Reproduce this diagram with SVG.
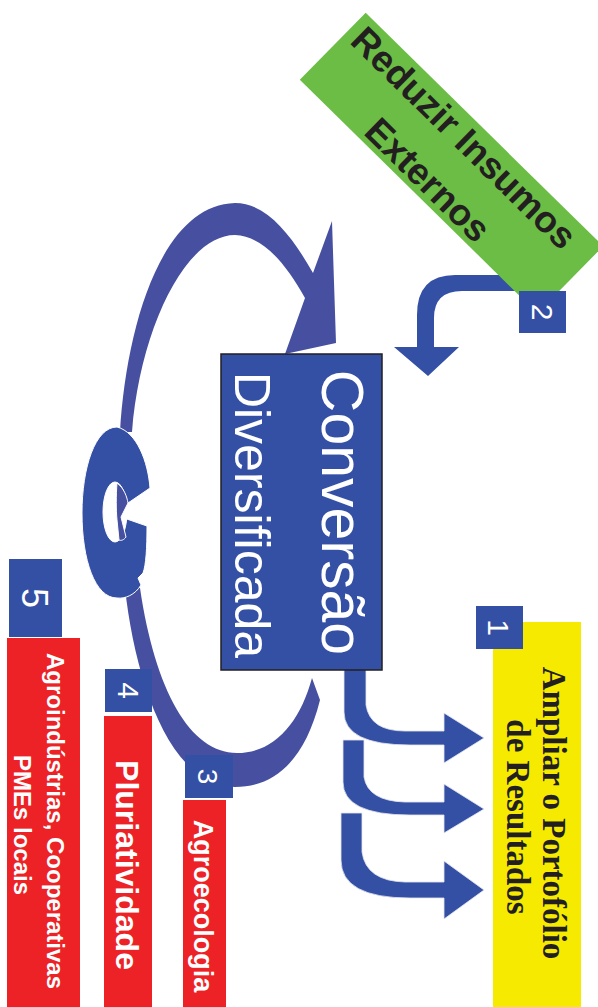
<svg xmlns="http://www.w3.org/2000/svg" width="598" height="1007" viewBox="0 0 598 1007">
<style>
.blue{fill:#3450A4}
.arc{fill:#4750A0}
.num{fill:#fff;font-family:"Liberation Sans",Arial,sans-serif;font-weight:normal;text-anchor:middle}
.red{fill:#EC2227}
.wt{fill:#fff;font-family:"Liberation Sans",Arial,sans-serif;font-weight:bold;text-anchor:middle}
.dk{fill:#231F20;font-family:"Liberation Sans",Arial,sans-serif;font-weight:bold;text-anchor:middle}
.serif{fill:#231F20;font-family:"Liberation Serif","Times New Roman",serif;font-weight:bold;text-anchor:middle}
</style>
<rect width="598" height="1007" fill="#fff"/>
<g id="connectors">
  <path id="loop-upper" class="arc" d="M120,432 C126,330 160,205 235,203 C268,203 293,238 313,273 L332,221 L336,343 L285,354 L305,298 C285,262 262,236 235,235 C185,235 140,330 132,432 Z"/>
  <path id="loop-lower" class="arc" d="M125,588 C135,680 170,787 235,787 C275,787 305,760 320,700 L312,678 C300,722 275,753 237,753 C190,753 155,690 140,588 Z"/>
  <g id="loop-twist" stroke="#fff" stroke-width="1">
    <path class="blue" d="M117,427 C137,432 148,462 150,488 L128,503 L121,517 L147,526 C147,548 146,565 143,573 L138,578 L141,585 C135,595 125,599 117,598 C95,598 82,560 82,513 C82,468 95,427 117,427 Z"/>
    <ellipse cx="115" cy="512" rx="12" ry="30" fill="#fff"/>
    <path class="arc" d="M117,483 C124,488 127,497 128,503 L121,517 L126,537 C124,540 121,541 119,540 L117,520 C116,510 116,495 117,483 Z"/>
  </g>
  <path id="arrow-2" class="blue" d="M520,275 H455 Q417,275 417,315 V347 H394 L428,376 L459,347 H434 V318 Q434,291 462,291 H520 Z"/>
  <path id="arrow-a" class="blue" stroke="#e6e6f0" stroke-width="0.8" d="M344,669 H366 V705 Q370,731 405,731 H444 V713 L484,738 L444,763 V745 H410 Q344,745 344,712 Z"/>
  <path id="arrow-b" class="blue" stroke="#e6e6f0" stroke-width="0.8" d="M343,740 H364 V777 Q368,801 405,802 H444 V784 L484,809 L444,833 V815 H410 Q343,815 343,782 Z"/>
  <path id="arrow-c" class="blue" stroke="#e6e6f0" stroke-width="0.8" d="M341,813 H362 V852 Q366,881 405,882 H444 V861 L484,890 L444,919 V898 H410 Q341,898 341,860 Z"/>
</g>
<g id="node-reduzir">
  <rect x="285" y="116" width="333" height="94" transform="rotate(44.5 451.5 163)" fill="#6BBD45"/>
  <text class="dk" font-size="37" transform="translate(455,147) rotate(44.5)">Reduzir Insumos</text>
  <text class="dk" font-size="37" transform="translate(419,189) rotate(44.5)">Externos</text>
</g>
<g id="badge-2">
  <rect class="blue" x="519" y="291" width="47" height="42"/>
  <text class="num" font-size="30" transform="translate(532,312) rotate(90)">2</text>
</g>
<g id="node-conversao">
  <rect x="221" y="354" width="161" height="316" fill="#3450A4" stroke="#231F20" stroke-width="1.5"/>
  <text class="num" font-size="59" transform="translate(322,512.5) rotate(90)">Conversão</text>
  <text class="num" font-size="50" transform="translate(235,515) rotate(90)">Diversificada</text>
</g>
<g id="node-ampliar">
  <rect x="493" y="622" width="88" height="385" fill="#F5EA00"/>
  <text class="serif" font-size="33" transform="translate(543,813) rotate(90)">Ampliar o Portofólio</text>
  <text class="serif" font-size="33" transform="translate(507,817) rotate(90)">de Resultados</text>
</g>
<g id="badge-1">
  <rect class="blue" x="476" y="606" width="47" height="43"/>
  <text class="num" font-size="30" transform="translate(488,627.5) rotate(90)">1</text>
</g>
<g id="node-agroecologia">
  <rect class="red" x="183" y="800" width="43" height="207"/>
  <text class="wt" font-size="27" transform="translate(193.5,906) rotate(90)">Agroecologia</text>
</g>
<g id="badge-3">
  <rect class="blue" x="185" y="755" width="48" height="43"/>
  <text class="num" font-size="28" transform="translate(198,776.5) rotate(90)">3</text>
</g>
<g id="node-pluriatividade">
  <rect class="red" x="104" y="716" width="48" height="291"/>
  <text class="wt" font-size="32" transform="translate(115.5,865) rotate(90)">Pluriatividade</text>
</g>
<g id="badge-4">
  <rect class="blue" x="105" y="669" width="47" height="43"/>
  <text class="num" font-size="30" transform="translate(118,690.5) rotate(90)">4</text>
</g>
<g id="node-agroindustrias">
  <rect class="red" x="7" y="638" width="73" height="369"/>
  <text class="wt" font-size="24" transform="translate(47,821) rotate(90)">Agroindústrias, Cooperativas</text>
  <text class="wt" font-size="24" transform="translate(14,825) rotate(90)">PMEs locais</text>
</g>
<g id="badge-5">
  <rect class="blue" x="9" y="559" width="53" height="78"/>
  <text class="num" font-size="36" transform="translate(22,598) rotate(90)">5</text>
</g>
</svg>
